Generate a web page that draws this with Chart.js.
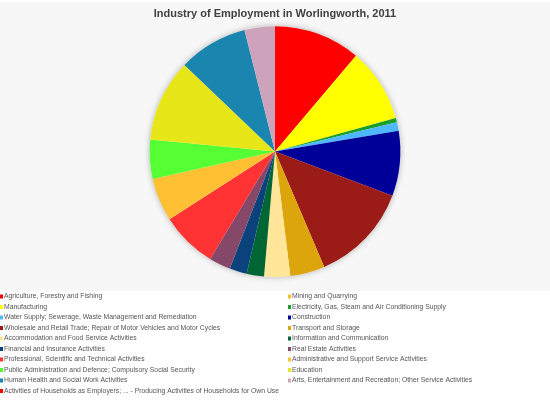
<!DOCTYPE html>
<html>
<head>
<meta charset="utf-8">
<script src="https://cdn.jsdelivr.net/npm/chart.js@4"></script>
<style>
  html, body { margin: 0; padding: 0; background: #fff; }
  #wrap { width: 550px; height: 400px; }
</style>
</head>
<body>
<div id="wrap"><canvas id="pie" width="550" height="400"></canvas></div>
<script>
const industries = [
  "Agriculture, Forestry and Fishing",
  "Mining and Quarrying",
  "Manufacturing",
  "Electricity, Gas, Steam and Air Conditioning Supply",
  "Water Supply; Sewerage, Waste Management and Remediation",
  "Construction",
  "Wholesale and Retail Trade; Repair of Motor Vehicles and Motor Cycles",
  "Transport and Storage",
  "Accommodation and Food Service Activities",
  "Information and Communication",
  "Financial and Insurance Activities",
  "Real Estate Activities",
  "Professional, Scientific and Technical Activities",
  "Administrative and Support Service Activities",
  "Public Administration and Defence; Compulsory Social Security",
  "Education",
  "Human Health and Social Work Activities",
  "Arts, Entertainment and Recreation; Other Service Activities",
  "Activities of Households as Employers; ... - Producing Activities of Households for Own Use"
];
const workers = [20, 0, 17, 1, 2, 15, 23, 8, 6, 4, 4, 5, 13, 10, 9, 19, 16, 7, 0];
const sliceColors = [
  "#ff0000", "#f2c12e", "#ffff00", "#1a9e2a", "#4db8ff", "#000099",
  "#9b1c17", "#dca50c", "#ffe699", "#006633", "#0a427c", "#864868",
  "#ff3333", "#ffc133", "#55ff33", "#e6e619", "#1a86b0", "#cca3bb",
  "#ff0000"
];
const chartTitle = "Industry of Employment in Worlingworth, 2011";

// background: grey plot area, white legend strip
const backdrop = {
  id: "backdrop",
  beforeDraw(chart) {
    const c = chart.ctx;
    c.save();
    c.fillStyle = "#ffffff";
    c.fillRect(0, 0, chart.width, chart.height);
    c.fillStyle = "#f7f7f7";
    c.fillRect(0, 2, chart.width, 289);
    c.restore();
  },
  beforeDatasetsDraw(chart) {
    // soft shadow behind the pie
    const arc = chart.getDatasetMeta(0).data[0];
    if (!arc) return;
    const c = chart.ctx;
    c.save();
    c.shadowColor = "rgba(0,0,0,0.28)";
    c.shadowBlur = 6;
    c.fillStyle = "#f7f7f7";
    c.beginPath();
    c.arc(arc.x, arc.y, arc.outerRadius, 0, Math.PI * 2);
    c.fill();
    c.restore();
  }
};

// two-column legend, row-major like the original
const gridLegend = {
  id: "gridLegend",
  afterDraw(chart) {
    const c = chart.ctx;
    const labels = chart.data.labels;
    const colors = chart.data.datasets[0].backgroundColor;
    c.save();
    c.font = "6.8px 'Liberation Sans', Arial, sans-serif";
    c.textBaseline = "middle";
    labels.forEach((txt, i) => {
      const col = i % 2, row = Math.floor(i / 2);
      const x = col ? 288 : 0;
      const y = 296.5 + row * 10.5;
      c.fillStyle = colors[i];
      c.fillRect(x, y - 2, 3, 4);
      c.fillStyle = "#555";
      c.fillText(txt, x + 4, y);
    });
    c.restore();
  }
};

new Chart(document.getElementById("pie"), {
  type: "pie",
  data: {
    labels: industries,
    datasets: [{
      data: workers,
      backgroundColor: sliceColors,
      borderWidth: 0
    }]
  },
  options: {
    responsive: false,
    animation: false,
    layout: { padding: { top: 0, bottom: 123, left: 0, right: 0 } },
    plugins: {
      legend: { display: false },
      tooltip: { enabled: false },
      title: {
        display: true,
        text: chartTitle,
        color: "#404040",
        font: { family: "'Liberation Sans', Arial, sans-serif", size: 11, weight: "bold" },
        padding: { top: 7, bottom: 6 }
      }
    }
  },
  plugins: [backdrop, gridLegend]
});
</script>
</body>
</html>
